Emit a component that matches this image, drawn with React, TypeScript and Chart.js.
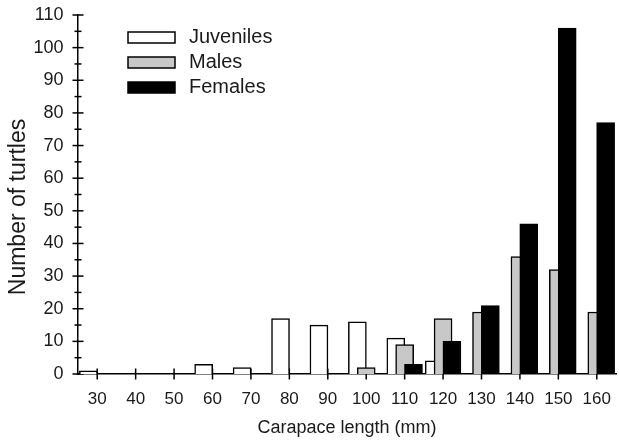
import React, { useEffect, useRef } from "react";
import { Chart, registerables } from "chart.js";

Chart.register(...registerables);

const categories = [30, 40, 50, 60, 70, 80, 90, 100, 110, 120, 130, 140, 150, 160];
const juveniles = [1, 0, 0, 3, 2, 17, 15, 16, 11, 4, 0, 0, 0, 0];
const males = [0, 0, 0, 0, 0, 0, 0, 2, 9, 17, 19, 36, 32, 19];
const females = [0, 0, 0, 0, 0, 0, 0, 0, 3, 10, 21, 46, 106, 77];
const yTicks = [0, 10, 20, 30, 40, 50, 60, 70, 80, 90, 100, 110];
const seriesNames = ["Juveniles", "Males", "Females"];
const yTitle = "Number of turtles";
const xTitle = "Carapace length (mm)";

const FONT = '"Liberation Sans", Arial, sans-serif';
const TEXT = "#1a1a1a";
const fills = ["#ffffff", "#c8c8c8", "#000000"];
const offsets = [-2.3, 0, 2.3];

const tickPlugin = {
  id: "crossTicks",
  beforeDraw(chart: any) {
    const { ctx } = chart;
    const xs = chart.scales.x;
    const ys = chart.scales.y;
    const ax = chart.chartArea.left;
    const ay = chart.chartArea.bottom;
    ctx.save();
    ctx.strokeStyle = "#000000";
    ctx.lineWidth = 1.5;
    for (let v = 0; v <= 110; v += 5) {
      const y = ys.getPixelForValue(v);
      const len = v % 10 === 0 ? 5.5 : 3.5;
      ctx.beginPath();
      ctx.moveTo(ax - len, y);
      ctx.lineTo(ax + len, y);
      ctx.stroke();
    }
    categories.forEach((c) => {
      const x = xs.getPixelForValue(c);
      ctx.beginPath();
      ctx.moveTo(x, ay - 5.5);
      ctx.lineTo(x, ay + 5.5);
      ctx.stroke();
    });
    ctx.restore();
  },
};

const legendPlugin = {
  id: "insideLegend",
  afterDraw(chart: any) {
    const { ctx } = chart;
    ctx.save();
    const bx = 128;
    const bw = 47;
    const bh = 11;
    const rows = [37.5, 62.5, 87.5];
    seriesNames.forEach((name, i) => {
      const cy = rows[i];
      ctx.fillStyle = fills[i];
      ctx.fillRect(bx, cy - bh / 2, bw, bh);
      ctx.strokeStyle = "#000";
      ctx.lineWidth = 1.5;
      ctx.strokeRect(bx, cy - bh / 2, bw, bh);
      ctx.fillStyle = TEXT;
      ctx.font = `20px ${FONT}`;
      ctx.textBaseline = "middle";
      ctx.textAlign = "left";
      ctx.fillText(name, 189, cy);
    });
    // y-axis title
    ctx.translate(19, 207);
    ctx.rotate(-Math.PI / 2);
    ctx.font = `23px ${FONT}`;
    ctx.textAlign = "center";
    ctx.textBaseline = "middle";
    ctx.fillStyle = TEXT;
    ctx.fillText(yTitle, 0, 0);
    ctx.restore();
  },
};

const zeroPad = (s: any) => {
  s.paddingTop = 0;
  s.paddingBottom = 0;
  s.paddingLeft = 0;
  s.paddingRight = 0;
};

export default function App() {
  const ref = useRef<HTMLCanvasElement>(null);

  useEffect(() => {
    document.body.style.margin = "0";
    const seriesData = [juveniles, males, females];
    const chart = new Chart(ref.current as HTMLCanvasElement, {
      type: "bar",
      data: {
        datasets: seriesData.map((vals, i) => ({
          label: seriesNames[i],
          data: categories.map((c, j) => ({
            x: c + offsets[i],
            y: vals[j] === 0 ? null : vals[j],
          })),
          backgroundColor: fills[i],
          borderColor: "#000",
          borderWidth: 1.5,
          barThickness: 18,
          grouped: false,
          order: 3 - i,
        })),
      },
      options: {
        animation: false,
        responsive: false,
        maintainAspectRatio: false,
        layout: { padding: { top: 15, right: 3, bottom: 0, left: 0 } },
        plugins: { legend: { display: false }, tooltip: { enabled: false } },
        scales: {
          x: {
            type: "linear",
            min: 25,
            max: 165,
            offset: false,
            afterBuildTicks: (s: any) => {
              s.ticks = categories.map((v) => ({ value: v }));
            },
            afterFit: (s: any) => {
              s.height = 67;
              zeroPad(s);
            },
            grid: { display: false, drawTicks: false, offset: false },
            border: { display: true, color: "#000", width: 1.5 },
            ticks: {
              padding: 15,
              color: TEXT,
              font: { family: FONT, size: 17 },
              maxRotation: 0,
              autoSkip: false,
            },
            title: {
              display: true,
              text: xTitle,
              color: TEXT,
              font: { family: FONT, size: 18 },
              padding: { top: 0, bottom: 2 },
            },
          },
          y: {
            min: 0,
            max: 110,
            afterBuildTicks: (s: any) => {
              s.ticks = yTicks.map((v) => ({ value: v }));
            },
            afterFit: (s: any) => {
              s.width = 78;
              zeroPad(s);
            },
            grid: { display: false, drawTicks: false },
            border: { display: true, color: "#000", width: 1.5 },
            ticks: {
              padding: 14.5,
              color: TEXT,
              font: { family: FONT, size: 18 },
            },
          },
        },
      },
      plugins: [tickPlugin, legendPlugin],
    });
    return () => chart.destroy();
  }, []);

  return (
    <div style={{ width: 619, height: 441 }}>
      <canvas ref={ref} width={619} height={441} style={{ display: "block" }} />
    </div>
  );
}
